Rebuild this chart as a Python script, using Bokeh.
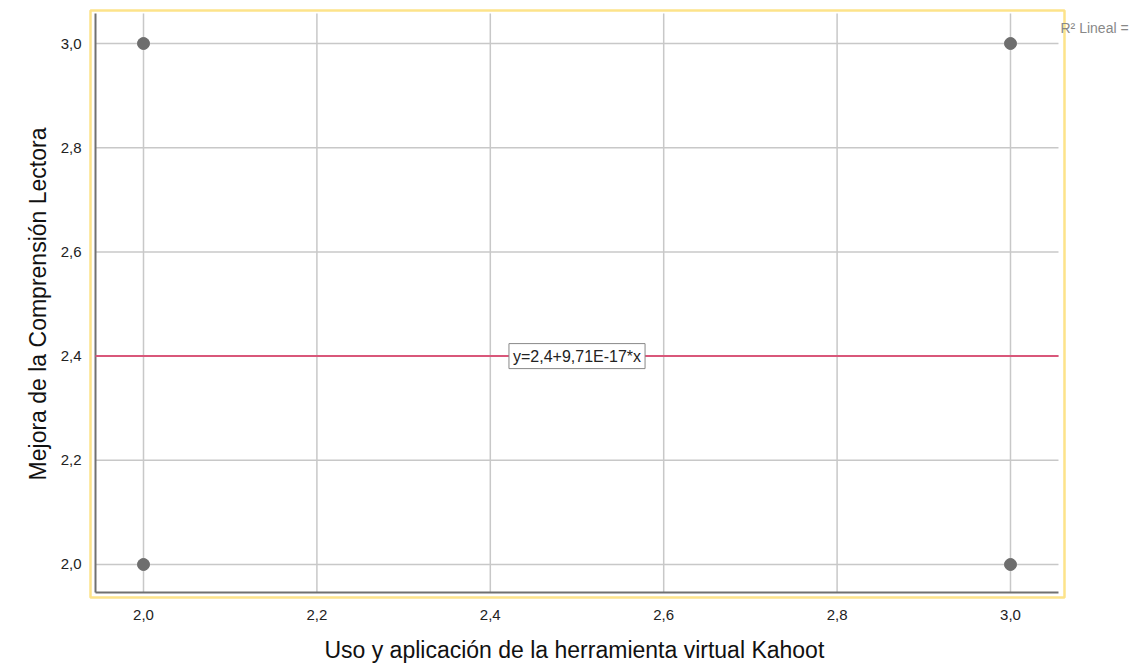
from bokeh.plotting import figure
from bokeh.models import Label, FixedTicker, CustomJSTickFormatter
from bokeh.embed import file_html
from bokeh.resources import INLINE

# data
x_vals = [2.0, 2.0, 3.0, 3.0]
y_vals = [3.0, 2.0, 3.0, 2.0]
fit_intercept = 2.4
fit_slope = 9.71e-17
x_ticks = [2.0, 2.2, 2.4, 2.6, 2.8, 3.0]
y_ticks = [2.0, 2.2, 2.4, 2.6, 2.8, 3.0]
eq_text = "y=2,4+9,71E-17*x"
r2_text = "R\u00b2 Lineal = 0,000"
x_title = "Uso y aplicación de la herramienta virtual Kahoot"
y_title = "Mejora de la Comprensión Lectora"

W, H = 1130, 665
# visible ranges and decorative extents (layout)
x0, x1 = 1.93656, 3.13841
y0, y1 = 1.93282, 3.06718
box_l, box_r, box_b, box_t = 1.93887, 3.06228, 1.93666, 3.06334  # yellow frame
ax_x, ax_y = 1.94464, 1.94626      # where the axis lines sit
gx_end, gy_end = 3.05536, 3.05758  # where the grid lines end

p = figure(width=W, height=H, output_backend="svg", toolbar_location=None,
           x_range=(x0, x1), y_range=(y0, y1),
           min_border_left=88, min_border_right=0, min_border_top=8,
           min_border_bottom=H - 599)
p.outline_line_color = None
p.background_fill_color = "white"
p.border_fill_color = "white"
p.grid.visible = False

fmt = CustomJSTickFormatter(code="return tick.toFixed(1).replace('.', ',');")
for ax, ticks in ((p.xaxis, x_ticks), (p.yaxis, y_ticks)):
    ax.ticker = FixedTicker(ticks=ticks)
    ax.formatter = fmt
    ax.major_tick_line_color = None
    ax.minor_tick_line_color = None
    ax.axis_line_color = None
    ax.major_label_text_font = "Liberation Sans"
    ax.major_label_text_font_size = "15px"
    ax.major_label_text_color = "#222222"
    ax.axis_label_text_font = "Liberation Sans"
    ax.axis_label_text_font_size = "23px"
    ax.axis_label_text_font_style = "normal"
    ax.axis_label_text_color = "#111111"

# the frame reaches the right edge (for the R² note), so pad the x title to keep it centred
p.xaxis.axis_label = x_title + "\u00a0" * 11
p.yaxis.axis_label = y_title
p.xaxis.major_label_standoff = 4
p.xaxis.axis_label_standoff = 14
p.yaxis.major_label_standoff = 1
p.yaxis.axis_label_standoff = 7

# yellow frame around the plot area
p.quad(left=[box_l], right=[box_r], bottom=[box_b], top=[box_t],
       fill_color=None, line_color="#fde38a", line_width=2.5)

# grid lines drawn at the tick values
p.segment(x0=x_ticks, y0=[ax_y] * len(x_ticks), x1=x_ticks, y1=[gy_end] * len(x_ticks),
          line_color="#c8c8c8", line_width=1.5)
p.segment(x0=[ax_x] * len(y_ticks), y0=y_ticks, x1=[gx_end] * len(y_ticks), y1=y_ticks,
          line_color="#c8c8c8", line_width=1.5)
# axis lines
p.segment(x0=[ax_x, ax_x], y0=[ax_y, ax_y], x1=[ax_x, gx_end], y1=[gy_end, ax_y],
          line_color="#707070", line_width=2)

# fit line
p.line([ax_x, gx_end], [fit_intercept + fit_slope * ax_x, fit_intercept + fit_slope * gx_end],
       line_color="#d9577a", line_width=2)

p.scatter(x_vals, y_vals, size=12, fill_color="#6e6e6e", line_color="#6e6e6e")

mid_x = (x_ticks[0] + x_ticks[-1]) / 2
p.add_layout(Label(x=mid_x, y=fit_intercept + fit_slope * mid_x, text=eq_text,
                   text_align="center", text_baseline="middle",
                   text_font="Liberation Sans", text_font_size="16px", text_color="#222222",
                   background_fill_color="white", border_line_color="#888888",
                   border_line_width=1, padding=4))

p.add_layout(Label(x=1060, y=27, x_units="canvas", y_units="canvas", text=r2_text,
                   text_align="left", text_baseline="middle",
                   text_font="Liberation Sans", text_font_size="14px", text_color="#888888"))

open("out.html", "w").write(file_html(p, INLINE))
